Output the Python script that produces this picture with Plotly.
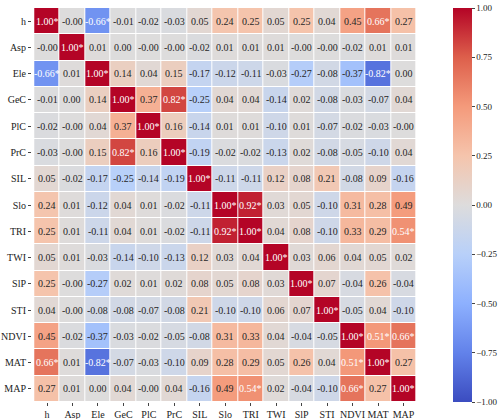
import plotly.graph_objects as go

labels = ['h', 'Asp', 'Ele', 'GeC', 'PlC', 'PrC', 'SIL', 'Slo', 'TRI', 'TWI',
          'SlP', 'STI', 'NDVI', 'MAT', 'MAP']

corr = [
    [1.00, -0.0, -0.66, -0.01, -0.02, -0.03, 0.05, 0.24, 0.25, 0.05, 0.25, 0.04, 0.45, 0.66, 0.27],
    [-0.0, 1.00, 0.01, 0.00, -0.0, -0.0, -0.02, 0.01, 0.01, 0.01, -0.0, -0.0, -0.02, 0.01, 0.01],
    [-0.66, 0.01, 1.00, 0.14, 0.04, 0.15, -0.17, -0.12, -0.11, -0.03, -0.27, -0.08, -0.37, -0.82, 0.00],
    [-0.01, 0.00, 0.14, 1.00, 0.37, 0.82, -0.25, 0.04, 0.04, -0.14, 0.02, -0.08, -0.03, -0.07, 0.04],
    [-0.02, -0.0, 0.04, 0.37, 1.00, 0.16, -0.14, 0.01, 0.01, -0.10, 0.01, -0.07, -0.02, -0.03, -0.0],
    [-0.03, -0.0, 0.15, 0.82, 0.16, 1.00, -0.19, -0.02, -0.02, -0.13, 0.02, -0.08, -0.05, -0.10, 0.04],
    [0.05, -0.02, -0.17, -0.25, -0.14, -0.19, 1.00, -0.11, -0.11, 0.12, 0.08, 0.21, -0.08, 0.09, -0.16],
    [0.24, 0.01, -0.12, 0.04, 0.01, -0.02, -0.11, 1.00, 0.92, 0.03, 0.05, -0.10, 0.31, 0.28, 0.49],
    [0.25, 0.01, -0.11, 0.04, 0.01, -0.02, -0.11, 0.92, 1.00, 0.04, 0.08, -0.10, 0.33, 0.29, 0.54],
    [0.05, 0.01, -0.03, -0.14, -0.10, -0.13, 0.12, 0.03, 0.04, 1.00, 0.03, 0.06, 0.04, 0.05, 0.02],
    [0.25, -0.0, -0.27, 0.02, 0.01, 0.02, 0.08, 0.05, 0.08, 0.03, 1.00, 0.07, -0.04, 0.26, -0.04],
    [0.04, -0.0, -0.08, -0.08, -0.07, -0.08, 0.21, -0.10, -0.10, 0.06, 0.07, 1.00, -0.05, 0.04, -0.10],
    [0.45, -0.02, -0.37, -0.03, -0.02, -0.05, -0.08, 0.31, 0.33, 0.04, -0.04, -0.05, 1.00, 0.51, 0.66],
    [0.66, 0.01, -0.82, -0.07, -0.03, -0.10, 0.09, 0.28, 0.29, 0.05, 0.26, 0.04, 0.51, 1.00, 0.27],
    [0.27, 0.01, 0.00, 0.04, -0.0, 0.04, -0.16, 0.49, 0.54, 0.02, -0.04, -0.10, 0.66, 0.27, 1.00],
]

# significance marker threshold used in the source figure
star_cut = 0.5

coolwarm = [
    [0.0, '#3b4cc0'], [0.125, '#6282ea'], [0.25, '#8db0fe'], [0.375, '#b8d0f9'],
    [0.5, '#dddcdc'], [0.625, '#f5c4ac'], [0.75, '#f49a7b'], [0.875, '#dd5f4b'],
    [1.0, '#b40426'],
]

font = 'Liberation Serif, Times New Roman, serif'

fig = go.Figure()
fig.add_trace(go.Heatmap(
    z=corr, x=labels, y=labels,
    zmin=-1, zmax=1, colorscale=coolwarm,
    xgap=1, ygap=1, hoverongaps=False,
    colorbar=dict(
        thickness=19, len=1.0, lenmode='fraction', x=1.0935, xanchor='left',
        xpad=0, ypad=0,
        y=0.5, yanchor='middle', outlinewidth=0,
        tickvals=[-1, -0.75, -0.5, -0.25, 0, 0.25, 0.5, 0.75, 1],
        tickformat='.2f', ticks='outside', ticklen=3,
        tickfont=dict(family=font, size=9, color='#222'),
    ),
))

# cell labels as annotations so starred cells can be white
for i, row in enumerate(corr):
    for j, v in enumerate(row):
        star = abs(v) > star_cut
        fig.add_annotation(
            x=labels[j], y=labels[i],
            text='{:.2f}{}'.format(v, '*' if star else ''),
            showarrow=False,
            font=dict(family=font, size=10, color='white' if star else '#262626'),
        )

fig.update_layout(
    width=500, height=419,
    margin=dict(l=32, r=83, t=8, b=17, autoexpand=False),
    paper_bgcolor='white', plot_bgcolor='white',
    font=dict(family=font, size=10, color='#222'),
    xaxis=dict(ticks='outside', ticklen=3, showgrid=False, zeroline=False,
               tickangle=0, automargin=False,
               tickfont=dict(family=font, size=10)),
    yaxis=dict(ticks='outside', ticklen=3, showgrid=False, zeroline=False,
               autorange='reversed', automargin=False,
               tickfont=dict(family=font, size=10)),
)

# drop the default body margin so the figure sits at the page corner
fig.write_html("out.html", config={'displayModeBar': False},
               post_script="document.body.style.margin='0';")
